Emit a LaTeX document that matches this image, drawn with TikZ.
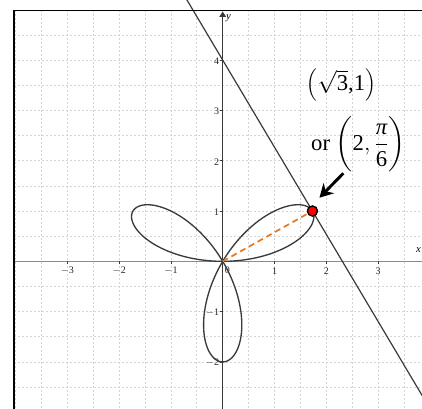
\documentclass[tikz,border=0pt]{standalone}
\usepackage{fontspec}
\setmainfont{Liberation Serif}
\usepackage{amsmath}
\usepackage{graphicx}
\usetikzlibrary{arrows.meta}
\definecolor{gridgray}{HTML}{D4D4D4}
\definecolor{axisgray}{HTML}{8C8C8C}
\definecolor{curvegray}{HTML}{3A3A3A}
\definecolor{dashorange}{HTML}{E8781E}
\tikzset{
  gridline/.style={draw=gridgray, line width=0.5pt, dash pattern=on 1.6pt off 1.4pt},
  ticklab/.style={font=\fontsize{7.5}{9}\selectfont, text=black!85, inner sep=0.5pt},
  rosecurve/.style={draw=curvegray, line width=1pt},
  tangentline/.style={draw=curvegray, line width=0.9pt},
  radiusdash/.style={draw=dashorange, line width=1.3pt, dash pattern=on 4.5pt off 3pt},
  redpoint/.style={circle, fill=red, draw=black, line width=0.9pt, minimum size=7.5pt, inner sep=0pt},
  annot/.style={font=\fontsize{17}{20}\selectfont, inner sep=0pt},
  bigarrow/.style={-{Stealth[length=10pt,width=11pt]}, line width=2.2pt, black}
}
\newcommand{\lparsmall}{\raisebox{0.9pt}{\scalebox{0.78}{$\Big($}}}
\newcommand{\rparsmall}{\raisebox{0.9pt}{\scalebox{0.78}{$\Big)$}}}
\begin{document}
\begin{tikzpicture}[x=38.85pt, y=37.725pt]
\useasboundingbox (-4.299,-2.917) rectangle (3.847,5.195);
\clip (-4.299,-2.917) rectangle (3.847,5.195);
% grid
\foreach \gx in {-4,-3.5,...,3.5} {
  \draw[gridline] (\gx,-3) -- (\gx,4.986);
}
\foreach \gy in {-2.5,-2,...,4.5} {
  \draw[gridline] (-4.03,\gy) -- (3.9,\gy);
}
% axes
\coordinate (xa0) at (-4.03,0);
\coordinate (xa1) at (3.9,0);
\coordinate (ya0) at (0,-3);
\coordinate (ya1) at (0,4.965);
\draw[axisgray, line width=0.9pt] (xa0) -- (xa1);
\draw[curvegray, line width=0.7pt, -{Triangle[length=4pt,width=5pt]}] (ya0) -- (ya1);
\node[font=\fontsize{8}{9}\selectfont\itshape, inner sep=0pt] (ylab) at (0.11,4.83) {y};
\node[font=\fontsize{8}{9}\selectfont\itshape, inner sep=0pt] (xlab) at (3.78,0.22) {x};
% ticks and labels
\foreach \k/\t in {-3/$-$3,-2/$-$2,-1/$-$1,1/1,2/2,3/3} {
  \draw[curvegray, line width=0.5pt] (\k,0) -- (\k,-0.06);
  \node[ticklab] (xl\k) at (\k,-0.19) {\t};
}
\node[ticklab] (xl0) at (0.09,-0.18) {0};
\foreach \k/\t in {4/4,3/3,2/2,1/1,-1/$-$1,-2/$-$2} {
  \draw[curvegray, line width=0.5pt] (0,\k) -- (-0.06,\k);
  \node[ticklab, anchor=east] (yl\k) at (-0.05,\k-0.02) {\t};
}
% rose r = 2 sin 3 theta
\draw[rosecurve] plot[domain=0:180, samples=361, smooth] ({2*sin(3*\x)*cos(\x)}, {2*sin(3*\x)*sin(\x)});
% tangent line
\coordinate (T0) at (-0.8,5.386);
\coordinate (T1) at (4.1,-3.101);
\draw[tangentline] (T0) -- (T1);
% radius and point
\coordinate (O) at (0,0);
\node[redpoint] (P) at (1.7321,1) {};
\draw[radiusdash] (O) -- (P);
\node[redpoint] (P2) at (1.7321,1) {};
% annotation
\node[annot] (L1) at (2.29,3.5) {\lparsmall$\sqrt{\mbox{3}}$,1\rparsmall};
\node[annot] (L2) at (2.62,2.32) {or $\bigg(\mbox{2},\dfrac{\mbox{\itshape π}}{\mbox{6}}\bigg)$};
\coordinate (As) at (2.328,1.75);
\coordinate (Ae) at (1.868,1.265);
\draw[bigarrow] (As) -- (Ae);
% frame
\draw[black, line width=1pt] (-4.03,-3) -- (-4.03,4.986) -- (4,4.986);
\end{tikzpicture}
\end{document}
